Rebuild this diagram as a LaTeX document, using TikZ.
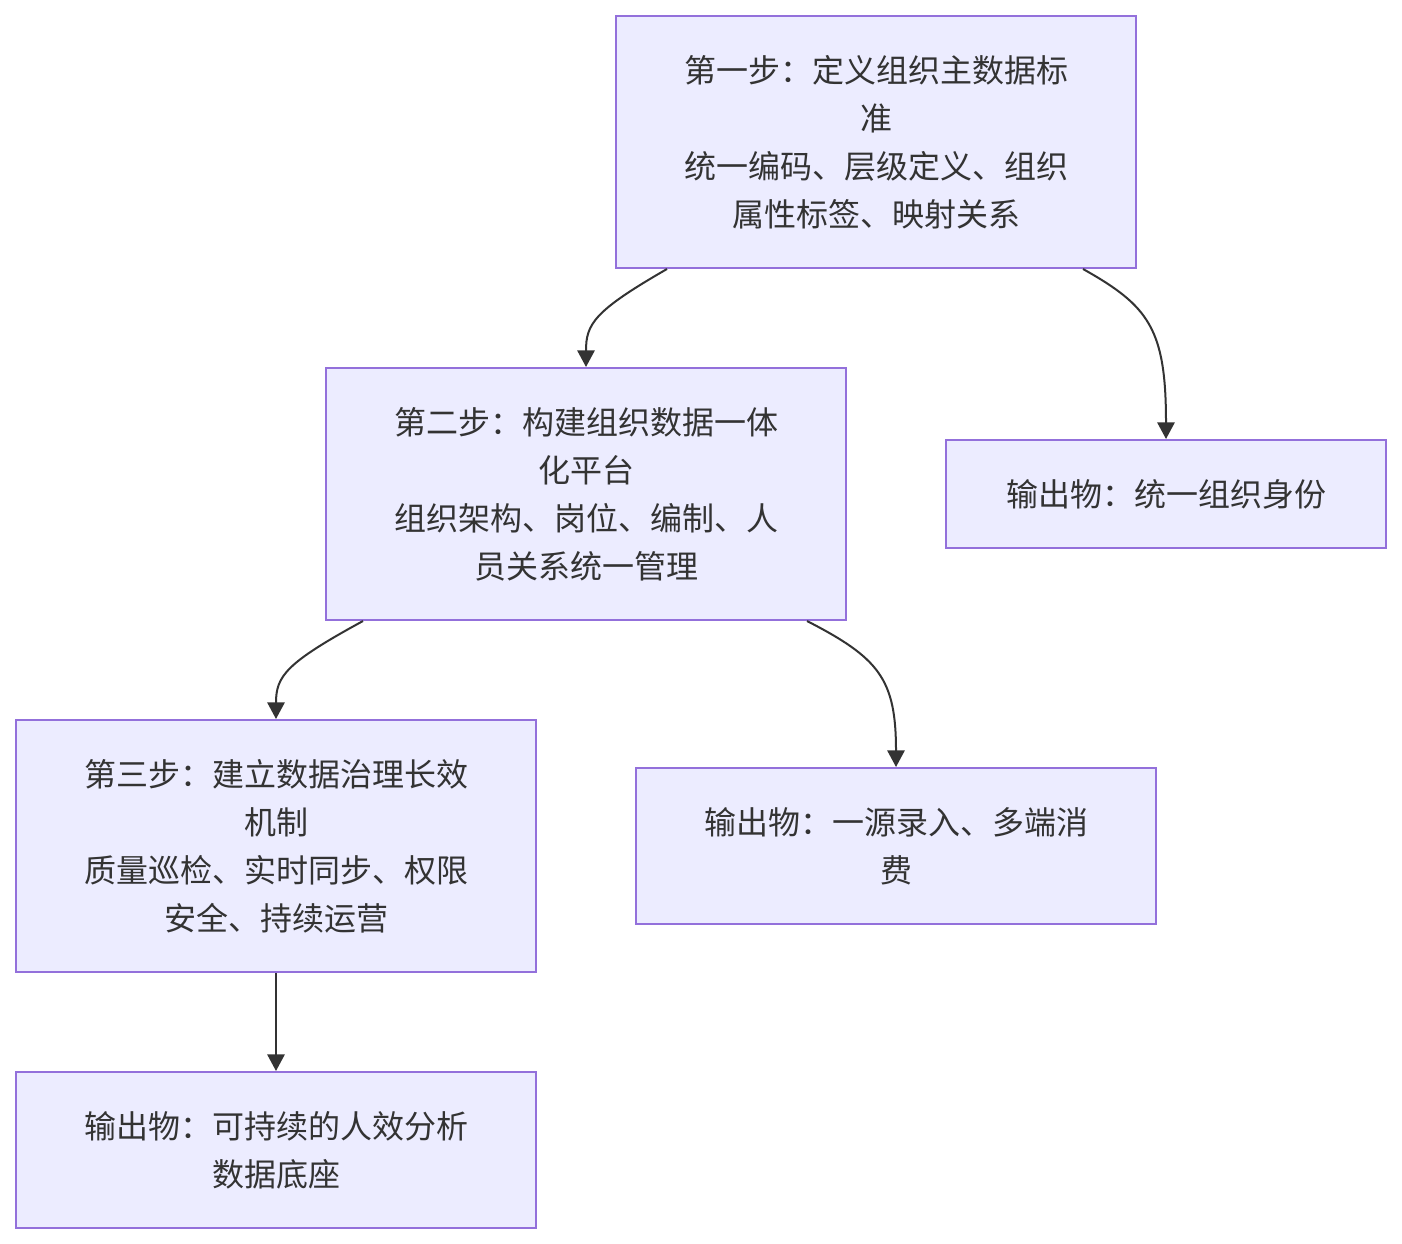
\documentclass[tikz,border=0pt]{standalone}
\usepackage{fontspec}
\newfontfamily\cjk{Noto Sans CJK SC}
\usetikzlibrary{arrows.meta,calc}
\definecolor{boxfill}{HTML}{ECECFF}
\definecolor{boxdraw}{HTML}{9370DB}
\definecolor{ink}{HTML}{333333}
\tikzset{
  box/.style={draw=boxdraw, fill=boxfill, line width=1.5pt, align=center,
    text=ink, font=\cjk\fontsize{24pt}{36pt}\selectfont, inner sep=0pt},
  bigbox/.style={box, minimum width=390pt, minimum height=189pt},
  outbox/.style={box, minimum width=390pt, minimum height=117pt},
  link/.style={draw=ink, line width=1.5pt, -{Triangle[length=12.5pt,width=13pt]}}
}
\begin{document}
\begin{tikzpicture}[x=0.75pt,y=-0.75pt]
\useasboundingbox[fill=white] (0,0) rectangle (1402,1244);
\node[bigbox] (s1) at (876,142) {第一步：定义组织主数据标\\准\\统一编码、层级定义、组织\\属性标签、映射关系};
\node[box, minimum width=330pt, minimum height=81pt] (o1) at (1166,494) {输出物：统一组织身份};
\node[bigbox] (s2) at (586,494) {第二步：构建组织数据一体\\化平台\\组织架构、岗位、编制、人\\员关系统一管理};
\node[bigbox] (s3) at (276,846) {第三步：建立数据治理长效\\机制\\质量巡检、实时同步、权限\\安全、持续运营};
\node[outbox] (o2) at (896,846) {输出物：一源录入、多端消\\费};
\node[outbox] (o3) at (276,1150) {输出物：可持续的人效分析\\数据底座};
\draw[link] ($(s1.south west)+(52,0)$) .. controls +(-73,42) and +(0,-43) .. (s2.north);
\draw[link] ($(s1.south west)+(468,0)$) .. controls +(66,37) and +(0,-110) .. (o1.north);
\draw[link] ($(s2.south west)+(38,0)$) .. controls +(-77,42) and +(0,-43) .. (s3.north);
\draw[link] ($(s2.south west)+(482,0)$) .. controls +(72,37) and +(0,-88) .. (o2.north);
\draw[link] (s3.south) -- (o3.north);
\end{tikzpicture}
\end{document}
